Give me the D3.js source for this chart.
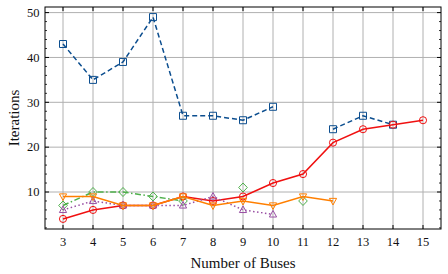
<!DOCTYPE html>
<html><head><meta charset="utf-8">
<script src="https://cdn.jsdelivr.net/npm/d3@7"></script>
<style>body{margin:0;background:#fff}svg{display:block}</style>
</head><body><svg id="c" width="448" height="274"></svg>
<script>
const buses = [3,4,5,6,7,8,9,10,11,12,13,14,15];
const xTicks = [3,4,5,6,7,8,9,10,11,12,13,14,15];
const yTicks = [10,20,30,40,50];
const seriesBlue   = [43,35,39,49,27,27,26,29,null,24,27,25,null];
const seriesRed    = [4,6,7,7,9,8,9,12,14,21,24,25,26];
const seriesGreen  = [7,10,10,9,8,null,11,null,8,null,null,null,null];
const seriesPurple = [6,8,7,7,7,9,6,5,null,null,null,null,null];
const seriesOrange = [9,9,7,7,9,7,8,7,9,8,null,null,null];

const svg = d3.select("#c");
const L=45, R=441, T=7, B=229;
const x = d3.scaleLinear().domain([2.4,15.6]).range([L,R]);
const y = d3.scaleLinear().domain([1.75,51.25]).range([B,T]);
const font = "'Liberation Serif', 'DejaVu Serif', serif";

// grid
const g = svg.append("g");
g.selectAll(".gx").data(xTicks).enter().append("line")
  .attr("x1",d=>x(d)).attr("x2",d=>x(d)).attr("y1",T).attr("y2",B)
  .attr("stroke","#b0b0b0").attr("stroke-width",1);
g.selectAll(".gy").data(yTicks).enter().append("line")
  .attr("y1",d=>y(d)).attr("y2",d=>y(d)).attr("x1",L).attr("x2",R)
  .attr("stroke","#b0b0b0").attr("stroke-width",1);

const series = [
  {v:seriesBlue, c:"#0C4E8F", dash:"5,3", m:"square"},
  {v:seriesRed, c:"#F01010", dash:null, m:"circle"},
  {v:seriesGreen, c:"#4DAF4A", dash:"6,2.5,1.5,2.5", m:"diamond"},
  {v:seriesPurple, c:"#984EA3", dash:"1.5,2.5", m:"up"},
  {v:seriesOrange, c:"#FF7F00", dash:null, m:"down"}
];
const line = d3.line().defined(d=>d.v!=null).x(d=>x(d.x)).y(d=>y(d.v));
function markerPath(m){
  const s=3.5;
  if(m==="square") return `M${-s},${-s}H${s}V${s}H${-s}Z`;
  if(m==="circle") return d3.symbol(d3.symbolCircle, 40)();
  if(m==="diamond") return `M0,${-4.5}L${4.3},0L0,${4.5}L${-4.3},0Z`;
  if(m==="up") return `M0,${-4}L${3.6},${2.6}L${-3.6},${2.6}Z`;
  if(m==="down") return `M0,${4}L${3.6},${-2.6}L${-3.6},${-2.6}Z`;
}
series.forEach(s=>{
  const pts = buses.map((b,i)=>({x:b,v:s.v[i]}));
  svg.append("path").datum(pts).attr("d",line).attr("fill","none")
    .attr("stroke",s.c).attr("stroke-width",1.5)
    .attr("stroke-dasharray",s.dash);
  svg.selectAll(null).data(pts.filter(p=>p.v!=null)).enter().append("path")
    .attr("d",markerPath(s.m))
    .attr("transform",p=>`translate(${x(p.x)},${y(p.v)})`)
    .attr("fill","none").attr("stroke",s.c).attr("stroke-width",1);
});

// axes
const ax = svg.append("g");
ax.append("rect").attr("x",L).attr("y",T).attr("width",R-L).attr("height",B-T)
  .attr("fill","none").attr("stroke","#000").attr("stroke-width",1);
const minorY = d3.range(2,52,2).filter(v=>v%10!==0 && v>=y.domain()[0] && v<=y.domain()[1]);
ax.selectAll(".tx").data(xTicks).enter().append("g").each(function(d){
  const s=d3.select(this);
  s.append("line").attr("x1",x(d)).attr("x2",x(d)).attr("y1",B).attr("y2",B-4).attr("stroke","#000");
  s.append("line").attr("x1",x(d)).attr("x2",x(d)).attr("y1",T).attr("y2",T+4).attr("stroke","#000");
});
ax.selectAll(".ty").data(yTicks).enter().append("g").each(function(d){
  const s=d3.select(this);
  s.append("line").attr("x1",L).attr("x2",L+4).attr("y1",y(d)).attr("y2",y(d)).attr("stroke","#000");
  s.append("line").attr("x1",R).attr("x2",R-4).attr("y1",y(d)).attr("y2",y(d)).attr("stroke","#000");
});
ax.selectAll(".my").data(minorY).enter().append("g").each(function(d){
  const s=d3.select(this);
  s.append("line").attr("x1",L).attr("x2",L+2).attr("y1",y(d)).attr("y2",y(d)).attr("stroke","#000").attr("stroke-width",0.8);
  s.append("line").attr("x1",R).attr("x2",R-2).attr("y1",y(d)).attr("y2",y(d)).attr("stroke","#000").attr("stroke-width",0.8);
});
svg.selectAll(".lx").data(xTicks).enter().append("text")
  .attr("x",d=>x(d)).attr("y",246).attr("text-anchor","middle")
  .attr("font-family",font).attr("font-size",12.5).attr("fill","#111").text(d=>d);
svg.selectAll(".ly").data(yTicks).enter().append("text")
  .attr("x",L-5.5).attr("y",d=>y(d)+4.2).attr("text-anchor","end")
  .attr("font-family",font).attr("font-size",12.5).attr("fill","#111").text(d=>d);
svg.append("text").attr("x",243).attr("y",268).attr("text-anchor","middle")
  .attr("font-family",font).attr("font-size",15).attr("fill","#111").text("Number of Buses");
svg.append("text").attr("transform",`translate(19,${(T+B)/2}) rotate(-90)`).attr("text-anchor","middle")
  .attr("font-family",font).attr("font-size",15).attr("fill","#111").text("Iterations");
</script></body></html>
